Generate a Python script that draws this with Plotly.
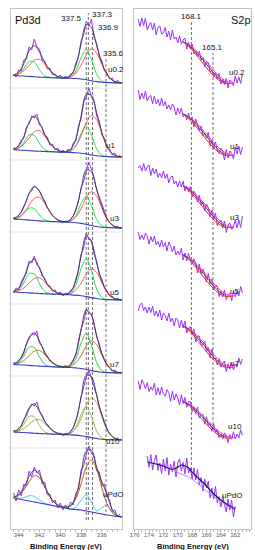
import plotly.graph_objects as go

# ---------------- Pd 3d panel data (intensity, a.u. above each trace's own baseline) ----------------
pd_be = [round(344.5 - 0.25 * i, 2) for i in range(42)]
pd_fit_be = [round(344.5 - 0.5 * i, 2) for i in range(22)]

pd_u02 = [9,6,13,12,23,24,36,33,44,36,34,23,22,14,15,8,9,5,8,4,7,5,9,10,20,26,42,48,62,57,64,45,40,27,22,12,10,4,5,0,3,-1]
pd_u1 = [10,7,12,17,19,30,33,41,39,43,32,30,21,20,12,13,7,9,4,7,4,8,6,14,16,31,38,55,60,69,60,56,41,36,22,19,9,8,2,4,-1,2]
pd_u3 = [11,8,13,16,22,27,35,37,42,40,37,31,27,20,17,12,10,8,7,5,7,6,9,12,19,27,40,47,57,66,59,50,38,31,22,15,10,5,3,1,2,-1]
pd_u5 = [7,12,10,18,23,27,39,37,44,35,33,24,22,15,14,9,10,6,8,4,7,6,10,12,21,30,46,52,67,61,60,46,39,26,21,12,9,4,4,0,2,0]
pd_u7 = [11,8,13,15,20,29,34,39,38,42,30,27,19,17,12,10,9,6,7,5,8,5,9,13,18,32,44,51,64,60,59,49,36,29,19,14,8,6,2,3,0,1]
pd_u10 = [10,7,12,14,21,24,31,36,34,38,29,25,19,16,12,9,8,6,7,4,7,5,9,12,20,29,43,54,63,70,62,55,45,33,25,17,11,6,4,1,2,0]
pd_pdo = [24,16,27,21,33,31,46,40,50,44,47,33,35,22,23,14,17,9,14,7,12,9,15,12,24,28,47,51,63,71,64,60,46,45,31,33,20,17,5,7,0,3]

# backgrounds
pd_bg_u02 = [7.5,7.3,7.0,6.6,6.2,5.9,5.6,5.4,5.2,5.0,4.9,4.8,4.5,4.0,3.2,2.2,1.4,0.8,0.4,0.2,0.1,0.0]
pd_bg_u1 = [7.2,7.0,6.7,6.3,6.0,5.7,5.5,5.3,5.1,4.9,4.8,4.6,4.3,3.8,3.0,2.1,1.3,0.7,0.3,0.1,0,0]
pd_bg_u3 = [9,8.7,8.3,7.9,7.5,7.1,6.8,6.5,6.3,6.1,5.9,5.7,5.3,4.6,3.6,2.5,1.5,0.8,0.4,0.2,0.1,0]
pd_bg_u5 = [8,7.8,7.5,7.1,6.8,6.5,6.2,6.0,5.8,5.6,5.4,5.2,4.9,4.3,3.4,2.4,1.5,0.8,0.4,0.2,0.1,0]
pd_bg_u7 = [8.5,8.3,8,7.6,7.2,6.9,6.6,6.3,6.1,5.9,5.7,5.5,5.1,4.5,3.5,2.4,1.5,0.8,0.4,0.2,0.1,0]
pd_bg_u10 = [8,7.8,7.5,7.1,6.8,6.5,6.2,6.0,5.8,5.6,5.4,5.2,4.9,4.3,3.4,2.4,1.5,0.8,0.4,0.2,0.1,0]
pd_bg_pdo = [19,18,17,16,15,14,13,12,11,10,9,8,7.5,7,6,5,4,3,2,1.2,0.5,0]

# fitted components (above background)
pd_c1_u02 = [0,1.8,7.4,14.7,14.7,7.4,1.8,0.2,0,0,0,1.3,7.5,21.2,30,21.2,7.5,1.3,0.2,0,0,0]
pd_c2_u02 = [0.4,1.7,5.1,10.9,16.5,17.7,13.4,7.2,2.7,0.8,0.5,1.5,5.4,13.8,25,31.8,28.6,18.2,8.2,2.6,0.6,0.1]
pd_c1_u1 = [0.2,1.9,7.8,15.6,15.6,7.8,1.9,0.2,0,0,0,1.2,7,19.8,28,19.8,7,1.2,0.2,0,0,0]
pd_c2_u1 = [0.5,2,5.9,12.7,19.3,20.7,15.7,8.4,3.2,0.9,0.6,1.9,6.8,17.2,31.2,39.7,35.8,22.8,10.3,3.3,0.8,0.1]
pd_c1_u3 = [0.2,1.5,6,11.9,11.9,6,1.5,0.2,0,0,0,1.2,7,19.8,28,19.8,7,1.2,0.2,0,0,0]
pd_c2_u3 = [0.5,2.3,6.8,14.6,22.1,23.6,17.9,9.6,3.6,1,0.5,1.6,5.8,14.6,26.5,33.8,30.4,19.4,8.7,2.8,0.6,0.1]
pd_c1_u5 = [0.3,2.4,9.6,19.3,19.3,9.6,2.4,0.3,0,0,0,1.7,9.5,26.9,38,26.9,9.5,1.7,0.2,0,0,0]
pd_c2_u5 = [0.4,1.5,4.5,9.7,14.7,15.7,11.9,6.4,2.4,0.7,0.4,1.4,4.9,12.5,22.6,28.8,26,16.5,7.5,2.4,0.6,0.1]
pd_c1_u7 = [0.3,2.3,9.2,18.3,18.3,9.2,2.3,0.3,0,0,0,1.6,9,25.5,36,25.5,9,1.6,0.2,0,0,0]
pd_c2_u7 = [0.4,1.5,4.5,9.7,14.7,15.7,11.9,6.4,2.4,0.7,0.4,1.4,5.1,12.9,23.4,29.8,26.9,17.1,7.7,2.5,0.6,0.1]
pd_c1_u10 = [0.3,2,8.2,16.5,16.5,8.2,2,0.3,0,0,0,1.3,7.5,21.2,30,21.2,7.5,1.3,0.2,0,0,0]
pd_c2_u10 = [0.3,1.3,4,8.5,12.9,13.8,10.4,5.6,2.1,0.6,0.4,1.9,6.8,17.2,31.2,39.7,35.8,22.8,10.3,3.3,0.8,0.1]
pd_c1_pdo = [0,0.6,2.5,5.3,5.7,3.1,0.8,0.1,0,0,0,0,2.2,9.7,16,9.7,2.2,6.3,9.7,3.2,0.2,0]
pd_c2_pdo = [0.9,3.7,10,19.2,26.3,25.4,17.3,8.4,2.9,0.7,0.9,3.3,11,26,43.9,52,43.9,26,11,3.3,0.7,0.1]

pd_lines = [337.5, 337.3, 336.9, 335.6]

# ---------------- S 2p panel data ----------------
s_be = [round(175.5 - 0.25 * i, 2) for i in range(59)]
s_u02 = [61,53.5,62,54.5,62,50,55,57.5,50,57,45,52.5,54,46,47,52.5,43,49,40,50,41,43,37,44,36,40,42,31,38,31.5,36,26,29,23,29,20,23,13,18,17.5,8,10,3,8,1,6.5,-4,1,-5,1.5,-8,0,-1.5,-6,4,-3,3,-3.5,6]
s_u1 = [62,52.5,59,53.5,61,51,55,56.5,48,56,48,52.5,46,54,46,50.5,43,47,42,48,45,37,44,38,44,35,38,32,39,31.5,35,25,33,28,21,26,16,19,14,19.5,6,12,3,10,2,-1.5,4,1,-8,2.5,-6,1,-1.5,-7,5,-2,6,-2.5,5]
s_u3 = [56,58.5,53,60.5,53,57,59,48.5,56,50,55,46.5,51,46,53,45.5,50,41,47,48,40,43,37,43,37,43,33,38,32,37.5,27,33,29,22,29,19,22,13,20,16.5,7,14,5,11,-2,2.5,4,-4,3,-8.5,-1,1,-5.5,-3,4,-4,4,-3.5,8]
s_u5 = [61,53.5,58,53.5,60,57,49,56.5,51,57,48,51.5,46,53,46,50.5,42,51,47,41,47,38,42,38,45,33,40,32,40,32.5,29,34,30,20,29,19,24,19,11,19.5,9,14,3,8,7,-3.5,2,-4,3,-6.5,-2,0,-7.5,2,-4,2,-3,6.5,0]
s_u7 = [53,59.5,61,53.5,57,51,57,51.5,58,48,53,47.5,54,44,51,48.5,43,51,42,46,38,46,44,36,44,36,43,31,36,37.5,29,35,22,28,28,19,19,23,12,16.5,6,15,5,6,-1,5.5,-3,1,3,-7.5,0,-5,1.5,-6,0,-3,6,-0.5,5]
s_u10 = [54,45.6,55.2,51.7,46.3,52.4,43.5,48.1,44.6,51.8,39.9,47.4,40,48.1,41.2,38.8,45.4,42.5,33.6,43.7,34.8,41,37.1,30.2,40.3,31.4,37.6,27.7,33.8,33.5,23.2,28.4,21.6,27.9,17.1,20.4,20.6,10.8,18.1,8.9,11.7,3.9,11.2,2.4,5.6,-2.7,1,-3.9,2.2,-0.2,-7.6,0.4,-4.2,3.2,-3.9,1,-3.1,5.3,-0.2]
s_pdo_be = [round(174.25 - 0.25 * i, 2) for i in range(50)]
s_pdo = [54,42.8,55.4,40,49.5,55,39.5,47,36.5,51,39.2,52.5,34.8,46,38,49,33,47,51,39,47.5,36,52,37,42,31,42,30,40.5,25,32.5,19,31,22,29,12,22,11,23.5,7,13.5,3,13.5,4,-2,11,0,10,-7,4]

s_fit_be = [169.25,168.75,168.25,167.75,167.25,166.75,166.25,165.75,165.25,164.75,164.25,163.75,163.25,162.75,162.25]
s_env_fit = [38,36,33.5,30,26,22,18,13.5,9,5,1.5,-1,-2.5]
s_red_fit = [38,35.5,32,28,23.5,19,14.5,10,6,2.5,-0.5,-2.5,-3.5,-3.5,-3]
s_mag_fit = [38,36.5,34.5,31.5,28,24,20,16,11.5,7.5,4,1,-1,-2.5,-3]
s_env_fit_u10 = [33.4,31.7,29.5,26.4,22.9,19.4,15.8,11.9,7.9,4.4,1.3,-0.9,-2.2]
s_red_fit_u10 = [33.4,31.2,28.2,24.6,20.7,16.7,12.8,8.8,5.3,2.2,-0.4,-2.2,-3.1,-3.1,-2.6]
s_mag_fit_u10 = [33.4,32.1,30.4,27.7,24.6,21.1,17.6,14.1,10.1,6.6,3.5,0.9,-0.9,-2.2,-2.6]
s_pdo_fit_be = [174.25,173,172,171,170.5,170,169.5,169,168.5,168,167.5,167,166,165,164,163,162]
s_pdo_env = [48,46,44,41,41,43,45,44,42,38,34,31,24,16,10,5,1]
s_pdo_bg_be = [170.5,169.5,168.5,167.5,166.5,165.5,164.5,163.5,162.5,162.0]
s_pdo_bg = [39,36,33,28,22,16,11,6,2,1]

s_lines = [168.1, 165.1]
samples = ["u0.2", "u1", "u3", "u5", "u7", "u10", "uPdO"]

# ---------------- styling / placement ----------------
DATA_COL = "#9B30FF"
ENV_COL = "#3a3a3a"
BG_COL = "#3a3ac8"
FONT = "Arial, Liberation Sans, sans-serif"

pd_offsets = [446, 372, 301, 229, 156, 89, 12]
s_offsets = [449, 377, 305, 236, 165, 94, 19]

pd_sets = [
    (pd_u02, pd_bg_u02, [(pd_c1_u02, "#1fe05a"), (pd_c2_u02, "#ff5a5a")]),
    (pd_u1, pd_bg_u1, [(pd_c1_u1, "#1fe05a"), (pd_c2_u1, "#ff5a5a")]),
    (pd_u3, pd_bg_u3, [(pd_c1_u3, "#1fe05a"), (pd_c2_u3, "#ff5a5a")]),
    (pd_u5, pd_bg_u5, [(pd_c1_u5, "#1fe05a"), (pd_c2_u5, "#ff5a5a")]),
    (pd_u7, pd_bg_u7, [(pd_c1_u7, "#33cc44"), (pd_c2_u7, "#a08030")]),
    (pd_u10, pd_bg_u10, [(pd_c1_u10, "#8cc63f"), (pd_c2_u10, "#b8a048")]),
    (pd_pdo, pd_bg_pdo, [(pd_c1_pdo, "#4fc3f7"), (pd_c2_pdo, "#b5651d")]),
]

fig = go.Figure()

for (data, bg, comps), off in zip(pd_sets, pd_offsets):
    fig.add_trace(go.Scatter(x=pd_be, y=[v + off for v in data], mode="lines",
                             line=dict(color=DATA_COL, width=1), xaxis="x", yaxis="y"))
    for comp, col in comps:
        fig.add_trace(go.Scatter(x=pd_fit_be, y=[b + c + off for b, c in zip(bg, comp)], mode="lines",
                                 line=dict(color=col, width=1, shape="spline"), xaxis="x", yaxis="y"))
    fig.add_trace(go.Scatter(x=pd_fit_be, y=[b + off for b in bg], mode="lines",
                             line=dict(color=BG_COL, width=1.1, shape="spline"), xaxis="x", yaxis="y"))
    env = [bg[i] + sum(c[i] for c, _ in comps) + off for i in range(len(bg))]
    fig.add_trace(go.Scatter(x=pd_fit_be, y=env, mode="lines",
                             line=dict(color=ENV_COL, width=0.9, shape="spline"), xaxis="x", yaxis="y"))

s_sets = [
    (s_u02, s_env_fit, s_red_fit, s_mag_fit),
    (s_u1, s_env_fit, s_red_fit, s_mag_fit),
    (s_u3, s_env_fit, s_red_fit, s_mag_fit),
    (s_u5, s_env_fit, s_red_fit, s_mag_fit),
    (s_u7, s_env_fit, s_red_fit, s_mag_fit),
    (s_u10, s_env_fit_u10, s_red_fit_u10, s_mag_fit_u10),
]
for (data, env, red, mag), off in zip(s_sets, s_offsets[:6]):
    fig.add_trace(go.Scatter(x=s_be, y=[v + off for v in data], mode="lines",
                             line=dict(color=DATA_COL, width=1), xaxis="x2", yaxis="y2"))
    fig.add_trace(go.Scatter(x=s_fit_be, y=[v + off for v in red], mode="lines",
                             line=dict(color="#ff2a2a", width=1, shape="spline"), xaxis="x2", yaxis="y2"))
    fig.add_trace(go.Scatter(x=s_fit_be, y=[v + off for v in mag], mode="lines",
                             line=dict(color="#ff3fb0", width=1, shape="spline"), xaxis="x2", yaxis="y2"))
    fig.add_trace(go.Scatter(x=s_fit_be[:len(env)], y=[v + off for v in env], mode="lines",
                             line=dict(color=ENV_COL, width=0.9, shape="spline"), xaxis="x2", yaxis="y2"))

off = s_offsets[6]
fig.add_trace(go.Scatter(x=s_pdo_be, y=[v + off for v in s_pdo], mode="lines",
                         line=dict(color=DATA_COL, width=1), xaxis="x2", yaxis="y2"))
fig.add_trace(go.Scatter(x=s_pdo_bg_be, y=[v + off for v in s_pdo_bg], mode="lines",
                         line=dict(color="#c080ff", width=1, shape="spline"), xaxis="x2", yaxis="y2"))
fig.add_trace(go.Scatter(x=s_pdo_fit_be, y=[v + off for v in s_pdo_env], mode="lines",
                         line=dict(color="#1a1a4a", width=1.1, shape="spline"), xaxis="x2", yaxis="y2"))

# ---------------- reference lines ----------------
shapes = []
pd_line_top = [505, 516, 496, 470]
pd_line_bot = [9, 9, 9, 17]
for xv, y0, y1 in zip(pd_lines, pd_line_bot, pd_line_top):
    shapes.append(dict(type="line", xref="x", yref="y", x0=xv, x1=xv, y0=y0, y1=y1,
                       line=dict(color="#707070", width=1, dash="3px,2px"), layer="below"))
s_line_top = [507, 476]
s_line_bot = [54, 99]
for xv, y0, y1 in zip(s_lines, s_line_bot, s_line_top):
    shapes.append(dict(type="line", xref="x2", yref="y2", x0=xv, x1=xv, y0=y0, y1=y1,
                       line=dict(color="#707070", width=1, dash="3px,2px"), layer="below"))
for yv in [441, 369, 297, 225, 153, 81]:
    shapes.append(dict(type="line", xref="x domain", yref="y", x0=0, x1=1, y0=yv, y1=yv,
                       line=dict(color="#e6e6e6", width=1), layer="below"))

# ---------------- text ----------------
ann = []
def txt(x, y, t, xa="left", size=8, xref="x", yref="y", bold=False):
    ann.append(dict(x=x, y=y, text=("<b>%s</b>" % t) if bold else t, xref=xref, yref=yref,
                    xanchor=xa, yanchor="middle", showarrow=False,
                    font=dict(family=FONT, size=size, color="#111")))

txt(344.55, 509, "Pd3d", size=11)
txt(337.72, 510, "337.5", xa="right")
txt(337.1, 514, "337.3")
txt(336.55, 501, "336.9")
txt(336.1, 476, "335.6")
pd_lab_x = [335.6, 335.75, 335.4, 335.4, 335.4, 335.75, 336.06]
pd_lab_y = [460, 384, 311, 237, 165, 88, 35]
for t, xv, yv in zip(samples, pd_lab_x, pd_lab_y):
    txt(xv, yv, t)

txt(168.1, 512, "168.1", xa="center", xref="x2", yref="y2")
txt(165.1, 482, "165.1", xa="center", xref="x2", yref="y2")
txt(162.9, 509, "S2p", size=11, xref="x2", yref="y2")
s_lab_x = [163.1, 163.0, 163.0, 163.0, 163.0, 163.3, 164.1]
s_lab_y = [457, 383, 312, 238, 166, 103, 34]
for t, xv, yv in zip(samples, s_lab_x, s_lab_y):
    txt(xv, yv, t, xref="x2", yref="y2")

txt(0.249, 0.006, "Binding Energy (eV)", xa="center", size=7.5, xref="paper", yref="paper", bold=True)
txt(0.751, 0.006, "Binding Energy (eV)", xa="center", size=7.5, xref="paper", yref="paper", bold=True)

axis_common = dict(showline=True, mirror=True, linecolor="#c4c4c4", linewidth=1,
                   showgrid=False, zeroline=False)
tick_common = dict(ticks="outside", ticklen=2, tickcolor="#aaaaaa", ticklabelstandoff=-2,
                   tickfont=dict(family=FONT, size=6, color="#555"),
                   minor=dict(ticks="outside", ticklen=1.5, dtick=0.5, tickcolor="#bbbbbb"))
fig.update_layout(
    width=255, height=550, margin=dict(l=0, r=0, t=0, b=0),
    paper_bgcolor="white", plot_bgcolor="white", showlegend=False,
    shapes=shapes, annotations=ann,
    xaxis=dict(domain=[7/255, 120/255], range=[344.75, 334.05], anchor="y",
               tickvals=[344, 342, 340, 338, 336, 334], **tick_common, **axis_common),
    yaxis=dict(domain=[21/550, 541/550], range=[0, 520], anchor="x",
               showticklabels=False, ticks="", **axis_common),
    xaxis2=dict(domain=[132/255, 251/255], range=[176.1, 159.8], anchor="y2",
                tickvals=list(range(176, 159, -2)), **tick_common, **axis_common),
    yaxis2=dict(domain=[21/550, 541/550], range=[0, 520], anchor="x2",
                showticklabels=False, ticks="", **axis_common),
)

fig.write_html(
    "out.html",
    config={"displayModeBar": False},
    post_script="document.body.style.margin='0px';document.body.style.overflow='hidden';",
)
